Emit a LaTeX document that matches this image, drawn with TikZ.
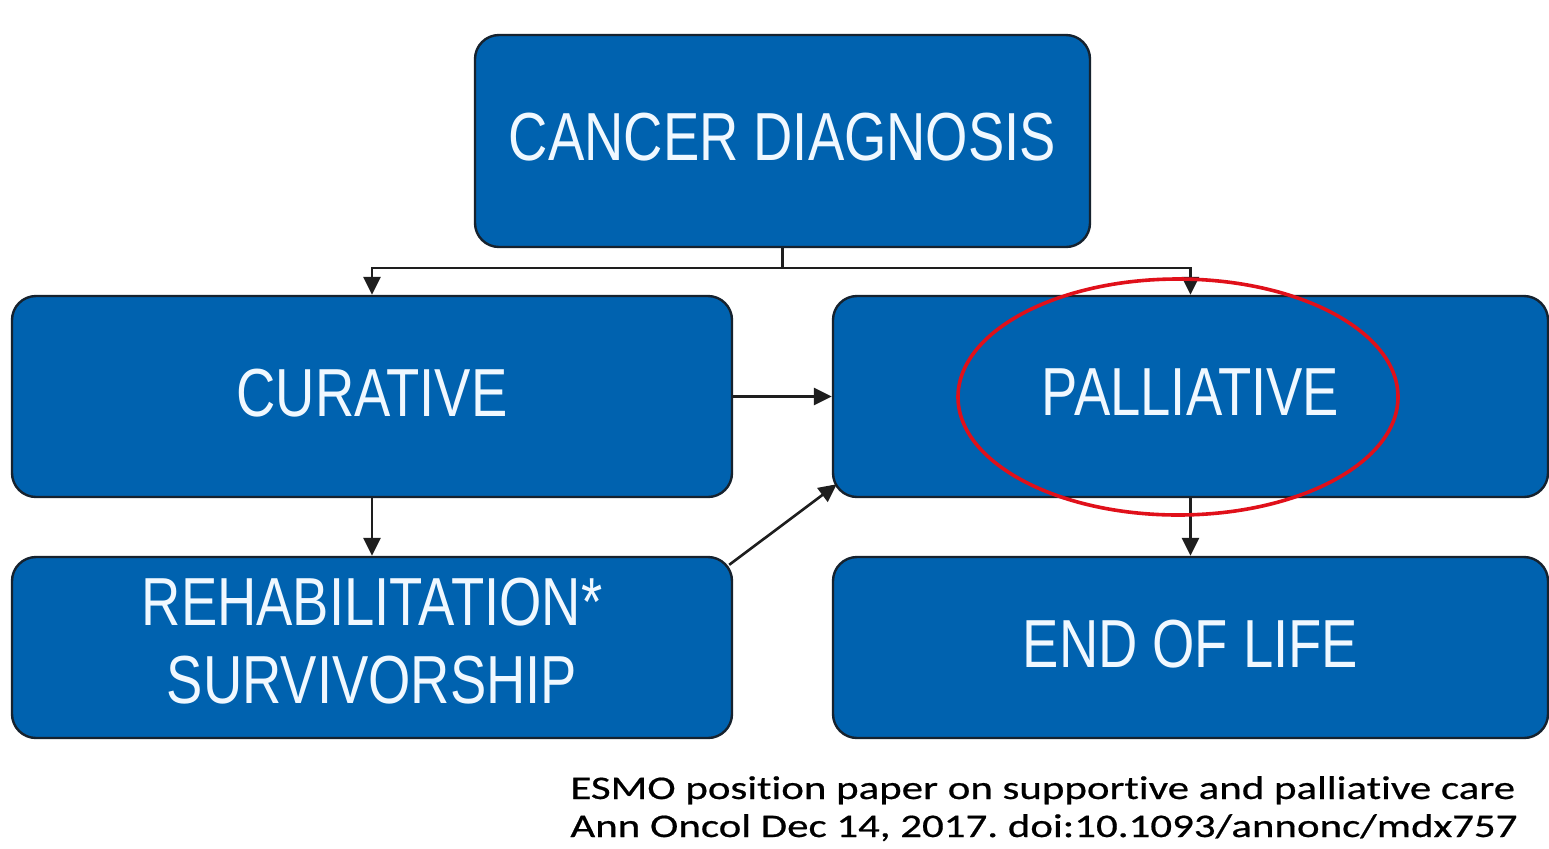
\documentclass[tikz,border=0pt]{standalone}
\usepackage{fontspec}
\usetikzlibrary{arrows.meta,calc}
\frenchspacing
\newfontfamily\boxfont[FakeStretch=0.8]{Liberation Sans}
\newfontfamily\citefont[Ligatures=NoCommon,FakeStretch=1.3,FakeBold=0.6]{Carlito}
\definecolor{boxblue}{HTML}{0062AF}
\definecolor{boxline}{HTML}{16222E}
\definecolor{linkgray}{HTML}{1E1E1E}
\definecolor{markred}{HTML}{E0101A}
\definecolor{boxtext}{HTML}{F0F8FF}
\begin{document}
\begin{tikzpicture}[x=0.5pt,y=-0.5pt,
  stage/.style={draw=boxline, fill=boxblue, line width=1.2pt, rounded corners=12pt,
    text=boxtext, inner sep=0pt, align=center, text depth=4pt,
    font=\boxfont\fontsize{34}{39}\selectfont},
  link/.style={draw=linkgray, line width=1.3pt},
  arr/.style={link, -{Triangle[length=9pt,width=8.5pt]}}]
\useasboundingbox[fill=white] (0,0) rectangle (1549,848);

% stage boxes
\node[stage, minimum width=307.5pt, minimum height=106pt] (cd)  at (782.5,141)   {CANCER DIAGNOSIS};
\node[stage, minimum width=360pt,   minimum height=100.5pt] (cur) at (372,396.5)  {CURATIVE};
\node[stage, minimum width=357.5pt, minimum height=100.5pt] (pal) at (1190.5,396.5) {PALLIATIVE};
\node[stage, minimum width=360pt,   minimum height=90.5pt, text depth=7pt] (reh) at (372,647.5)  {REHABILITATION*\\SURVIVORSHIP};
\node[stage, minimum width=357.5pt, minimum height=90.5pt] (eol) at (1190.5,647.5) {END OF LIFE};

% branching from the diagnosis
\coordinate (bus) at (782.5,268);
\draw[link] (cd.south) -- (bus);
\draw[arr] (bus) -| (cur.north);
\draw[arr] (bus) -| (pal.north);

% transitions between pathways
\draw[arr] (cur.east) -- (pal.west);
\draw[arr] (cur.south) -- (reh.north);
\draw[arr] (pal.south) -- (eol.north);
\draw[arr] ($(reh.north east)+(-4,9)$) -- ($(pal.south west)+(5,-14)$);

% highlight around the palliative stage
\draw[markred, line width=1.8pt] (1178,397) ellipse [x radius=220, y radius=118];

% reference line (anchored on the baseline of its last line)
\node[anchor=base west, inner sep=0pt, align=left, text=black,
  font=\citefont\fontsize{16.5}{19}\selectfont] (cite) at (570,837)
  {ESMO position paper on supportive and palliative care\\
   Ann Oncol Dec 14, 2017. doi:10.1093/annonc/mdx757};
\end{tikzpicture}
\end{document}
